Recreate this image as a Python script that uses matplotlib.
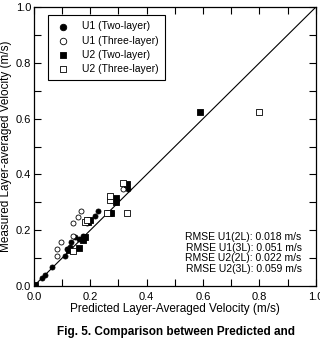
import numpy as np
import matplotlib
matplotlib.use('Agg')
from matplotlib import pyplot as plt
from matplotlib.ticker import MultipleLocator

plt.rcParams['font.family'] = ['Liberation Sans', 'DejaVu Sans']

# U1 two-layer (filled circles)
u1_2l_pred = [0.027, 0.041, 0.063, 0.110, 0.118, 0.128, 0.130, 0.145, 0.160, 0.175,
              0.216, 0.226, 0.272, 0.291, 0.335]
u1_2l_meas = [0.028, 0.039, 0.067, 0.107, 0.134, 0.141, 0.159, 0.175, 0.170, 0.180,
              0.251, 0.270, 0.262, 0.300, 0.347]
# U1 three-layer (open circles)
u1_3l_pred = [0.083, 0.083, 0.096, 0.122, 0.137, 0.139, 0.157, 0.167, 0.190, 0.317]
u1_3l_meas = [0.107, 0.134, 0.157, 0.131, 0.179, 0.227, 0.247, 0.269, 0.225, 0.348]
# U2 two-layer (filled squares)
u2_2l_pred = [0.005, 0.125, 0.160, 0.175, 0.181, 0.193, 0.200, 0.265, 0.272, 0.291,
              0.291, 0.329, 0.590]
u2_2l_meas = [0.005, 0.129, 0.137, 0.165, 0.177, 0.230, 0.238, 0.262, 0.260, 0.314,
              0.300, 0.366, 0.625]
# U2 three-layer (open squares)
u2_3l_pred = [0.137, 0.181, 0.188, 0.260, 0.270, 0.270, 0.317, 0.329, 0.800]
u2_3l_meas = [0.127, 0.230, 0.238, 0.260, 0.310, 0.323, 0.368, 0.263, 0.625]

rmse_lines = ['RMSE U1(2L): 0.018 m/s', 'RMSE U1(3L): 0.051 m/s',
              'RMSE U2(2L): 0.022 m/s', 'RMSE U2(3L): 0.059 m/s']

fig = plt.figure(figsize=(3.2, 3.38), dpi=100)
ax = fig.add_axes([0.106, 0.154, 0.881, 0.825])

ax.plot([0, 1], [0, 1], color='black', lw=0.8, zorder=1)
ms = 13
ax.scatter(u1_2l_pred, u1_2l_meas, s=ms, marker='o', facecolor='black',
           edgecolor='black', lw=0.6, label='U1 (Two-layer)', zorder=3)
ax.scatter(u1_3l_pred, u1_3l_meas, s=ms, marker='o', facecolor='white',
           edgecolor='black', lw=0.6, label='U1 (Three-layer)', zorder=3)
ax.scatter(u2_2l_pred, u2_2l_meas, s=ms, marker='s', facecolor='black',
           edgecolor='black', lw=0.6, label='U2 (Two-layer)', zorder=3)
ax.scatter(u2_3l_pred, u2_3l_meas, s=ms, marker='s', facecolor='white',
           edgecolor='black', lw=0.6, label='U2 (Three-layer)', zorder=3)

ax.set_xlim(0, 1)
ax.set_ylim(0, 1)
ax.xaxis.set_major_locator(MultipleLocator(0.2))
ax.yaxis.set_major_locator(MultipleLocator(0.2))
ax.xaxis.set_minor_locator(MultipleLocator(0.1))
ax.yaxis.set_minor_locator(MultipleLocator(0.1))
ax.tick_params(which='both', direction='in', top=True, right=True,
               length=5, width=0.8, labelsize=8)
ax.tick_params(axis='x', pad=4)
ax.tick_params(axis='y', pad=2)
for s in ax.spines.values():
    s.set_linewidth(0.9)
ax.set_xticklabels(['%.1f' % v for v in ax.get_xticks()])
ax.set_yticklabels(['%.1f' % v for v in ax.get_yticks()])

ax.set_xlabel('Predicted Layer-Averaged Velocity (m/s)', fontsize=8.5, labelpad=1)
ax.set_ylabel('Measured Layer-averaged Velocity (m/s)', fontsize=8.5, labelpad=3)

leg = ax.legend(loc='upper left', bbox_to_anchor=(0.03, 0.99), fontsize=7.5,
                frameon=True, fancybox=False, edgecolor='black', framealpha=1,
                handletextpad=0.9, borderpad=0.6, labelspacing=0.4,
                handlelength=1.8, markerscale=1.3)
leg.get_frame().set_linewidth(0.8)

ax.text(0.95, 0.195, '\n'.join(rmse_lines), transform=ax.transAxes,
        ha='right', va='top', fontsize=7.5, linespacing=1.12)

fig.text(0.55, 0.017, 'Fig. 5. Comparison between Predicted and',
         ha='center', va='center', fontsize=8.5, fontweight='bold')

fig.savefig('out.png', dpi=100)
